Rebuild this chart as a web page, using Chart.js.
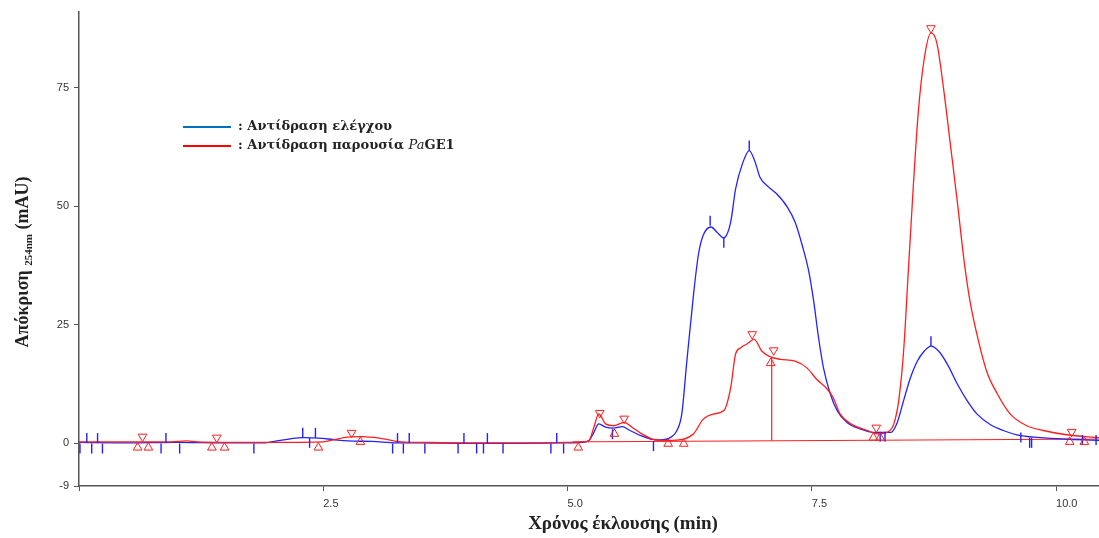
<!DOCTYPE html>
<html>
<head>
<meta charset="utf-8">
<script src="https://cdn.jsdelivr.net/npm/chart.js@4.4.1/dist/chart.umd.min.js"></script>
<style>
  html, body { margin: 0; padding: 0; background: #fff; }
  #wrap { width: 1099px; height: 538px; position: relative; }
</style>
</head>
<body>
<div id="wrap"><canvas id="chart"></canvas></div>
<script>
// --- Data (time in min, response in mAU) ---
const blueTime = [0, 0.5, 1.0, 1.5, 1.9, 2.0, 2.15, 2.3, 2.45, 2.6, 2.75, 3.0, 3.25, 3.5, 4.0, 4.5, 5.0, 5.15,
  5.22, 5.27, 5.32, 5.39, 5.47, 5.56, 5.64, 5.75, 5.85, 5.95, 6.06, 6.12, 6.17, 6.22, 6.29, 6.34, 6.39, 6.47,
  6.53, 6.60, 6.67, 6.72, 6.79, 6.86, 6.92, 6.97, 7.06, 7.14, 7.25, 7.33, 7.40, 7.47, 7.52, 7.57, 7.62, 7.69,
  7.76, 7.86, 8.0, 8.13, 8.31, 8.37, 8.44, 8.51, 8.58, 8.65, 8.72, 8.80, 8.89, 8.99, 9.09, 9.19, 9.33, 9.46,
  9.64, 9.91, 10.2, 10.44];
const blueResp = [0.2, 0.1, 0.2, 0.1, 0.1, 0.4, 0.9, 1.2, 1.1, 0.8, 0.5, 0.4, 0.1, 0.1, 0.0, 0.0, 0.1, 0.2,
  0.6, 2.3, 4.1, 3.4, 3.2, 3.5, 2.7, 1.6, 0.9, 0.7, 1.3, 2.7, 6.2, 17, 31.4, 39.8, 43.9, 45.6,
  44.5, 43.3, 46.6, 53.6, 58.9, 61.7, 59.3, 56.1, 54.0, 52.6, 49.8, 46.6, 41.9, 36.2, 29.9, 22.2, 15.9, 10.4,
  6.9, 4.4, 3.0, 2.3, 2.3, 4.1, 9.0, 13.8, 17.3, 19.4, 20.5, 19.4, 16.6, 12.5, 9.0, 6.2, 3.9, 2.7,
  1.6, 1.1, 0.8, 0.6];

const redTime = [0, 0.5, 0.94, 1.1, 1.21, 1.5, 2.0, 2.5, 2.6, 2.75, 2.9, 3.1, 3.3, 3.5, 4.0, 4.5, 5.0, 5.15,
  5.22, 5.27, 5.32, 5.39, 5.47, 5.58, 5.66, 5.76, 5.87, 6.02, 6.19, 6.29, 6.39, 6.50, 6.60, 6.67, 6.72, 6.77,
  6.84, 6.91, 6.99, 7.08, 7.18, 7.33, 7.45, 7.55, 7.66, 7.72, 7.79, 7.90, 8.07, 8.17, 8.27, 8.34, 8.39, 8.44,
  8.49, 8.54, 8.59, 8.65, 8.72, 8.78, 8.85, 8.92, 8.99, 9.06, 9.12, 9.19, 9.29, 9.40, 9.53, 9.70, 9.87, 10.11,
  10.44];
const redResp = [0.3, 0.3, 0.3, 0.5, 0.3, 0.2, 0.2, 0.3, 0.7, 1.3, 1.4, 1.0, 0.3, 0.2, 0.1, 0.1, 0.2, 0.3,
  0.6, 3.4, 6.2, 4.1, 3.7, 4.4, 3.4, 2.0, 0.9, 0.6, 0.9, 2.0, 5.1, 6.2, 6.9, 11.7, 18.8, 20.1,
  21.0, 21.9, 19.4, 18.2, 17.7, 17.3, 15.9, 13.5, 11.4, 9.6, 6.2, 4.1, 2.7, 2.0, 2.3, 4.1, 9.0, 19.4,
  36.9, 54.4, 69.7, 80.9, 86.5, 84.4, 74.6, 62.8, 50.9, 38.3, 29.9, 23.0, 15.2, 10.4, 6.2, 3.7, 2.7, 1.8,
  1.2];

// integration baseline and drop line of the red trace
const baseTime = [5.05, 10.44];
const baseResp = [0.3, 0.9];
const dropTime = [7.09, 7.09];
const dropResp = [0.6, 18.1];

// blue integration tick marks (centre of each tick)
const blueTickTime = [0.08, 0.19, 0.89, 2.29, 2.42, 3.26, 3.38, 3.94, 4.18, 4.89,
  0.01, 0.13, 0.24, 0.84, 1.03, 1.79, 2.36, 3.21, 3.32, 3.54, 3.88, 4.07, 4.14, 4.34, 4.83, 4.96,
  5.46, 5.88, 6.46, 6.60, 6.86, 8.20, 8.25, 8.72, 9.64, 9.73, 9.75, 10.27, 10.41];
const blueTickLevel = [1.1, 1.1, 1.1, 2.2, 2.2, 1.1, 1.1, 1.1, 1.1, 1.1,
  -1.1, -1.1, -1.1, -1.1, -1.1, -1.1, 0.1, -1.1, -1.1, -1.1, -1.1, -1.1, -1.1, -1.1, -1.1, -1.1,
  1.9, -0.6, 46.9, 42.3, 62.8, 1.4, 1.4, 21.5, 1.2, 0.1, 0.1, 0.7, 0.7];

// red peak apex markers (down triangles) and start/end markers (up triangles)
const apexTime = [0.65, 1.41, 2.79, 5.33, 5.58, 6.89, 7.11, 8.16, 8.72, 10.16];
const apexLevel = [1.4, 1.2, 2.2, 6.4, 5.2, 23.0, 19.6, 3.3, 87.5, 2.4];
const edgeTime = [0.60, 0.71, 1.36, 1.49, 2.45, 2.88, 5.11, 5.48, 6.03, 6.19, 7.08, 8.13, 8.20, 10.14, 10.29];
const edgeLevel = [-0.9, -0.9, -0.9, -0.9, -0.9, 0.3, -0.9, 2.0, -0.1, -0.1, 16.9, 1.2, 1.2, 0.3, 0.3];

const xTicks = [0, 2.5, 5.0, 7.5, 10.0];
const yTicks = [-9, 0, 25, 50, 75];

const xTitle = 'Χρόνος έκλουσης (min)';
const yTitleMain = 'Απόκριση';
const yTitleSub = '254nm';
const yTitleUnit = '(mAU)';
const legendLabels = [': Αντίδραση ελέγχου', ': Αντίδραση παρουσία '];

const BLUE = 'rgb(35, 35, 245)';
const RED = 'rgb(255, 30, 30)';
const SERIF = '"DejaVu Serif", "Liberation Serif", serif';

function pairs(xs, ys) {
    return xs.map((x, i) => ({ x: x, y: ys[i] }));
}

// --- Axis titles and legend, drawn on the canvas ---
const decorPlugin = {
    id: 'decor',
    afterDraw(chart) {
        const ctx = chart.ctx;
        ctx.save();
        ctx.fillStyle = '#222';

        // x title
        ctx.font = 'bold 19px "Liberation Serif", serif';
        ctx.textAlign = 'center';
        ctx.textBaseline = 'middle';
        ctx.fillText(xTitle, 623, 524);

        // y title with subscript
        ctx.save();
        ctx.translate(28, 262);
        ctx.rotate(-Math.PI / 2);
        ctx.textAlign = 'left';
        ctx.textBaseline = 'alphabetic';
        const fMain = 'bold 18px "Liberation Serif", serif';
        const fSub = 'bold 11px "Liberation Serif", serif';
        ctx.font = fMain;
        const w1 = ctx.measureText(yTitleMain + ' ').width;
        const w3 = ctx.measureText(' ' + yTitleUnit).width;
        ctx.font = fSub;
        const w2 = ctx.measureText(yTitleSub).width;
        let x = -(w1 + w2 + w3) / 2;
        ctx.font = fMain;
        ctx.fillText(yTitleMain + ' ', x, 0);
        x += w1;
        ctx.font = fSub;
        ctx.fillText(yTitleSub, x, 4);
        x += w2;
        ctx.font = fMain;
        ctx.fillText(' ' + yTitleUnit, x, 0);
        ctx.restore();

        // legend
        const rows = [
            { y: 127, color: '#0070C0' },
            { y: 146, color: '#FF0000' }
        ];
        rows.forEach((r, i) => {
            ctx.strokeStyle = r.color;
            ctx.lineWidth = 2;
            ctx.beginPath();
            ctx.moveTo(183, r.y);
            ctx.lineTo(231, r.y);
            ctx.stroke();
            ctx.textAlign = 'left';
            ctx.textBaseline = 'middle';
            ctx.font = 'bold 13px ' + SERIF;
            ctx.fillText(legendLabels[i], 238, r.y);
            if (i === 1) {
                let lx = 238 + ctx.measureText(legendLabels[i]).width;
                ctx.font = 'italic 13px ' + SERIF;
                ctx.fillText('Pa', lx, r.y);
                lx += ctx.measureText('Pa').width;
                ctx.font = 'bold 13px ' + SERIF;
                ctx.fillText('GE1', lx, r.y);
            }
        });
        ctx.restore();
    }
};

const ctx = document.getElementById('chart').getContext('2d');
const chart = new Chart(ctx, {
    type: 'line',
    data: {
        datasets: [
            {
                label: 'apex',
                data: pairs(apexTime, apexLevel),
                showLine: false,
                pointStyle: 'triangle',
                rotation: 180,
                pointRadius: 5,
                pointBackgroundColor: 'rgba(0,0,0,0)',
                pointBorderColor: RED,
                pointBorderWidth: 1
            },
            {
                label: 'edges',
                data: pairs(edgeTime, edgeLevel),
                showLine: false,
                pointStyle: 'triangle',
                pointRadius: 5,
                pointBackgroundColor: 'rgba(0,0,0,0)',
                pointBorderColor: RED,
                pointBorderWidth: 1
            },
            {
                label: 'blue ticks',
                data: pairs(blueTickTime, blueTickLevel),
                showLine: false,
                pointStyle: 'line',
                rotation: 90,
                pointRadius: 5,
                pointBorderColor: BLUE,
                pointBorderWidth: 1.4
            },
            {
                label: 'Αντίδραση παρουσία PaGE1',
                data: pairs(redTime, redResp),
                borderColor: RED,
                borderWidth: 1.3,
                pointRadius: 0,
                cubicInterpolationMode: 'monotone'
            },
            {
                label: 'Αντίδραση ελέγχου',
                data: pairs(blueTime, blueResp),
                borderColor: BLUE,
                borderWidth: 1.3,
                pointRadius: 0,
                cubicInterpolationMode: 'monotone'
            },
            {
                label: 'baseline',
                data: pairs(baseTime, baseResp),
                borderColor: RED,
                borderWidth: 1,
                pointRadius: 0
            },
            {
                label: 'drop',
                data: pairs(dropTime, dropResp),
                borderColor: RED,
                borderWidth: 1.2,
                pointRadius: 0
            }
        ]
    },
    options: {
        responsive: true,
        maintainAspectRatio: false,
        animation: false,
        clip: false,
        layout: { autoPadding: false, padding: { top: 10, right: 0, left: 0, bottom: 0 } },
        plugins: {
            legend: { display: false },
            tooltip: { enabled: false }
        },
        scales: {
            x: {
                type: 'linear',
                min: 0,
                max: 10.44,
                afterBuildTicks: (scale) => { scale.ticks = xTicks.map(v => ({ value: v })); },
                afterFit: (scale) => {
                    scale.height = 52;
                    scale.paddingLeft = 0;
                    scale.paddingRight = 0;
                },
                ticks: {
                    align: 'start',
                    padding: 6,
                    color: '#333',
                    font: { family: '"Liberation Sans", Arial, sans-serif', size: 11 },
                    callback: (v) => v === 0 ? '' : Number(v).toFixed(1)
                },
                grid: { drawOnChartArea: false, tickLength: 5, color: '#555' },
                border: { color: '#555', width: 1.5 }
            },
            y: {
                min: -9,
                max: 91,
                afterBuildTicks: (scale) => { scale.ticks = yTicks.map(v => ({ value: v })); },
                afterFit: (scale) => { scale.width = 79; },
                ticks: {
                    padding: 5,
                    color: '#333',
                    font: { family: '"Liberation Sans", Arial, sans-serif', size: 11 },
                    callback: (v) => String(v)
                },
                grid: { drawOnChartArea: false, tickLength: 5, color: '#555' },
                border: { color: '#555', width: 1.5 }
            }
        }
    },
    plugins: [decorPlugin]
});
</script>
</body>
</html>
